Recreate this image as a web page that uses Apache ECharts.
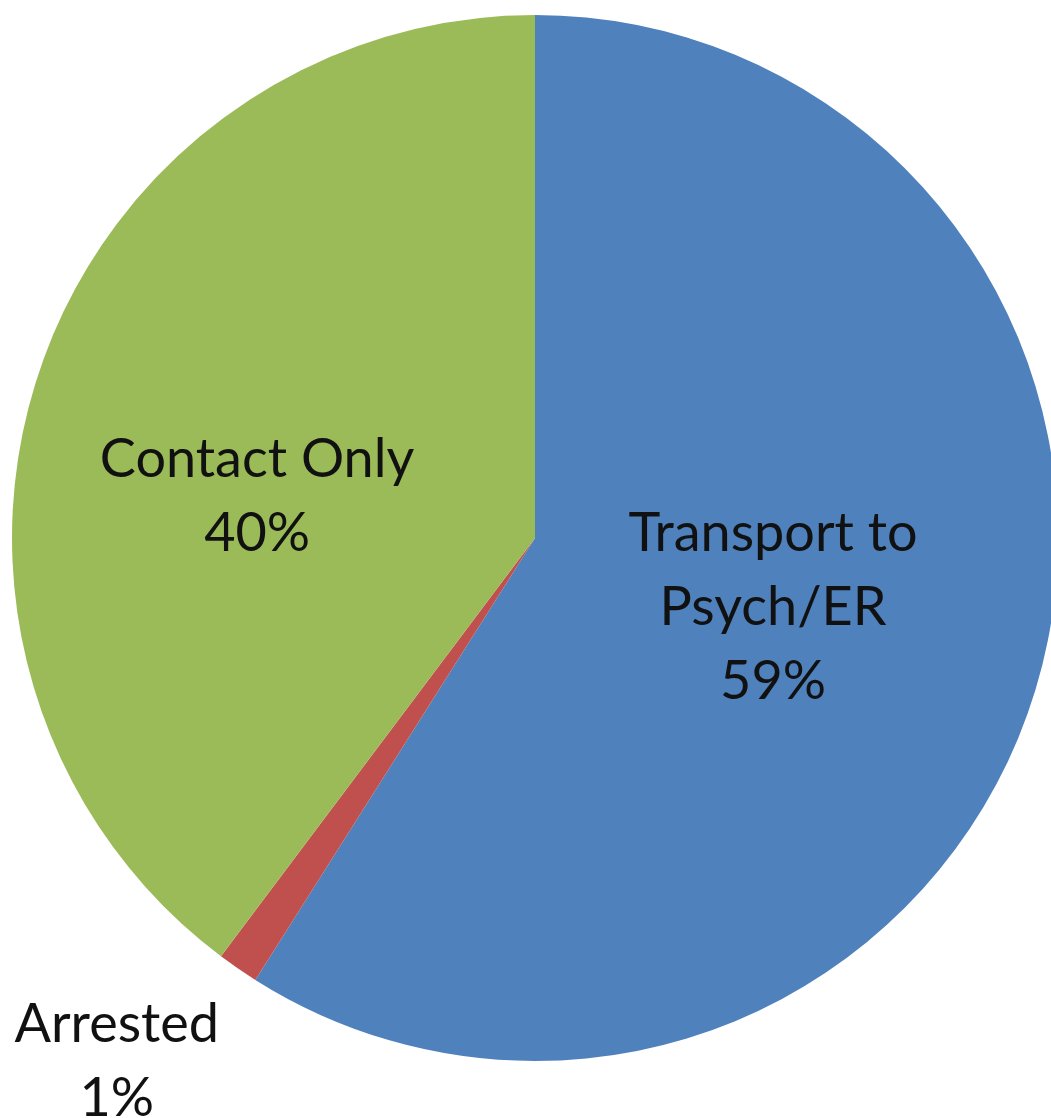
<!DOCTYPE html>
<html>
<head>
<meta charset="utf-8">
<script src="https://cdn.jsdelivr.net/npm/echarts@6/dist/echarts.min.js"></script>
<style>
html,body{margin:0;padding:0;background:#fff;}
#chart{width:1051px;height:1118px;}
</style>
</head>
<body>
<div id="chart"></div>
<script>
var categories = ['Transport to\nPsych/ER', 'Arrested', 'Contact Only'];
var values = [58.98, 1.27, 39.75];
var colors = ['#4F81BD', '#C0504D', '#9BBB59'];
var labelShift = [[-16, -4], [-268, 306], [-27, 42]];

var chart = echarts.init(document.getElementById('chart'));
chart.setOption({
  animation: false,
  series: [{
    type: 'pie',
    center: [535, 538],
    radius: 523,
    startAngle: 90,
    clockwise: true,
    percentPrecision: 0,
    data: categories.map(function (c, i) {
      return { name: c, value: values[i], itemStyle: { color: colors[i] } };
    }),
    itemStyle: { borderWidth: 0 },
    label: {
      show: true,
      position: 'inside',
      formatter: '{b}\n{d}%',
      fontFamily: 'Lato',
      fontSize: 54,
      lineHeight: 74,
      color: '#111',
      align: 'center'
    },
    labelLine: { show: false },
    labelLayout: function (p) {
      var s = labelShift[p.dataIndex];
      return { dx: s[0], dy: s[1] };
    },
    emphasis: { disabled: true }
  }]
});
</script>
</body>
</html>
